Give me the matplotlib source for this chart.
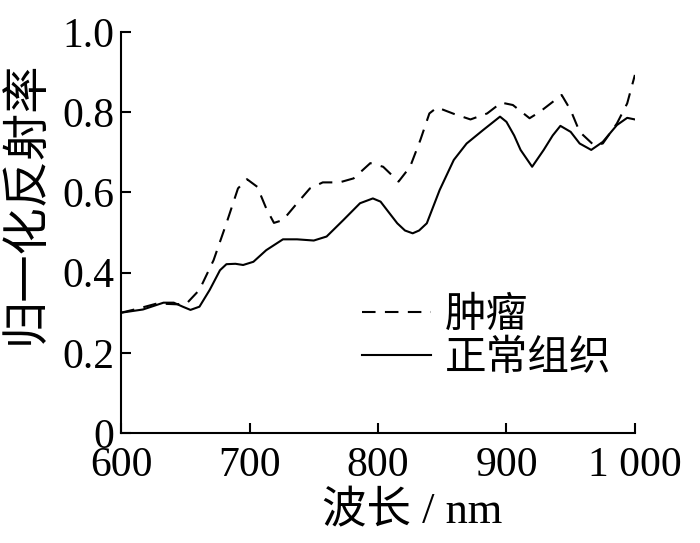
""" plot.py - normalized reflectance spectra """

import matplotlib
matplotlib.use("Agg")
import matplotlib.pyplot as plt

plt.rcParams['font.family'] = ['Liberation Serif', 'Noto Sans CJK SC']

# wavelength (nm) and normalized reflectance
wl_normal = [600, 617, 633, 641, 648, 654, 661, 669, 677, 682, 689, 695,
             703, 713, 726, 737, 750, 760, 773, 786, 796, 802, 808, 815,
             821, 827, 832, 838, 848, 859, 869, 882, 895, 900, 906, 911,
             920, 929, 936, 942, 950, 957, 966, 975, 986, 994, 1000]
refl_normal = [0.300, 0.308, 0.325, 0.325, 0.315, 0.307, 0.315, 0.357,
               0.406, 0.421, 0.422, 0.419, 0.427, 0.456, 0.483, 0.483,
               0.480, 0.490, 0.531, 0.573, 0.585, 0.577, 0.552, 0.523,
               0.505, 0.498, 0.505, 0.523, 0.606, 0.681, 0.722, 0.756,
               0.789, 0.776, 0.742, 0.706, 0.664, 0.706, 0.742, 0.766,
               0.751, 0.722, 0.706, 0.726, 0.768, 0.786, 0.782]

wl_tumor = [600, 613, 628, 643, 651, 661, 672, 682, 691, 698, 706, 713,
            719, 726, 737, 747, 757, 770, 781, 794, 804, 816, 825, 833,
            840, 846, 859, 872, 885, 896, 905, 918, 926, 943, 950, 957,
            968, 975, 986, 994, 1000]
refl_tumor = [0.300, 0.310, 0.323, 0.321, 0.323, 0.357, 0.431, 0.523,
              0.610, 0.633, 0.614, 0.560, 0.524, 0.531, 0.573, 0.610,
              0.625, 0.625, 0.635, 0.673, 0.664, 0.627, 0.664, 0.731,
              0.797, 0.812, 0.796, 0.782, 0.797, 0.824, 0.818, 0.785,
              0.801, 0.843, 0.805, 0.751, 0.718, 0.722, 0.772, 0.822,
              0.893]

x_ticks = [600, 700, 800, 900, 1000]
x_labels = ["600", "700", "800", "900", "1 000"]
y_ticks = [0, 0.2, 0.4, 0.6, 0.8, 1.0]
y_labels = ["0", "0.2", "0.4", "0.6", "0.8", "1.0"]

fig = plt.figure(figsize=(7, 5.43), dpi=100)
ax = fig.add_axes([0.173, 0.2026, 0.734, 0.7384])

ax.plot(wl_tumor, refl_tumor, color='black', lw=1.5,
        linestyle=(0, (6.5, 4.5)), label='肿瘤')
ax.plot(wl_normal, refl_normal, color='black', lw=1.5, label='正常组织')

ax.set_xlim(600, 1000)
ax.set_ylim(0, 1.0)
ax.set_xticks(x_ticks)
ax.set_xticklabels(x_labels)
ax.set_yticks(y_ticks)
ax.set_yticklabels(y_labels)

for side in ['top', 'right']:
    ax.spines[side].set_visible(False)
for side in ['left', 'bottom']:
    ax.spines[side].set_linewidth(1.5)

ax.tick_params(direction='in', length=7, width=1.5, labelsize=30)
ax.tick_params(axis='x', pad=10)
ax.tick_params(axis='y', pad=5)
ax.set_xlabel('波长 / nm', fontsize=32)
ax.xaxis.set_label_coords(0.566, -0.145)
ax.set_ylabel('归一化反射率', fontsize=34)
ax.yaxis.set_label_coords(-0.14, 0.575)

ax.legend(loc='upper left', bbox_to_anchor=(0.428, 0.39), frameon=False,
          fontsize=30, handlelength=1.65, handletextpad=0.35,
          labelspacing=0.1, borderpad=0)

fig.savefig('out.png', dpi=100)
